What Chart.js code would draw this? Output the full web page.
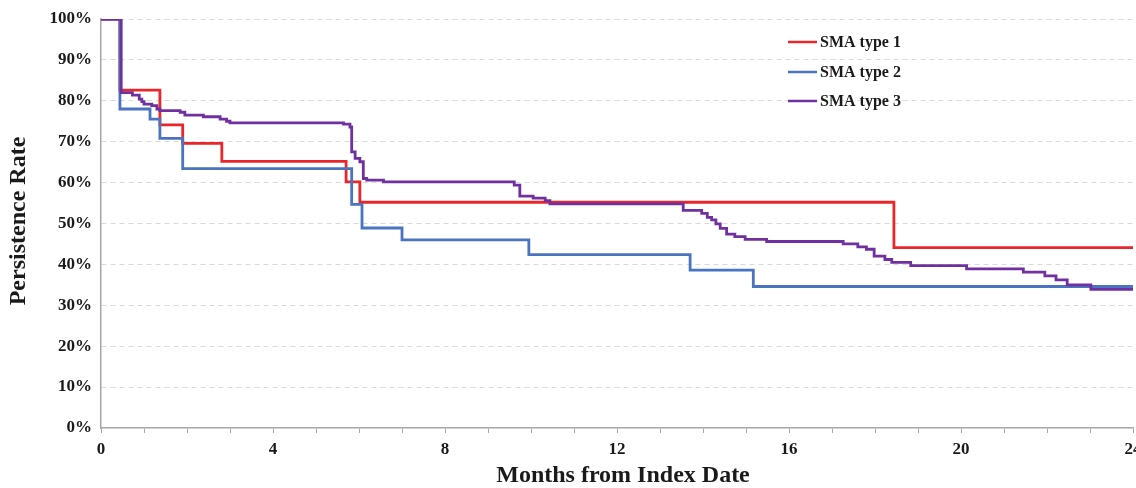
<!DOCTYPE html>
<html>
<head>
<meta charset="utf-8">
<script src="https://cdn.jsdelivr.net/npm/chart.js@4/dist/chart.umd.min.js"></script>
<style>
html,body{margin:0;padding:0;background:#fff;}
#wrap{width:1136px;height:488px;}
</style>
</head>
<body>
<div id="wrap"><canvas id="c" width="1136" height="488"></canvas></div>
<script>
// Month ticks and labels
const xTickLabels = [0, 4, 8, 12, 16, 20, 24];
const yTickLabels = [0, 10, 20, 30, 40, 50, 60, 70, 80, 90, 100];

// Series labels and axis titles
const seriesNames = ['SMA type 1', 'SMA type 2', 'SMA type 3'];
const xTitle = 'Months from Index Date';
const yTitle = 'Persistence Rate';

// SMA type 1 (times in months, persistence %)
const t1 = [0, 0.44, 1.37, 1.9, 2.81, 5.7, 6.02, 18.44, 24];
const v1 = [100, 82.6, 74.1, 69.6, 65.2, 60.2, 55.2, 44.1, 44.1];

// SMA type 2
const t2 = [0, 0.44, 1.14, 1.37, 1.9, 5.83, 6.07, 7.0, 9.95, 13.7, 15.17, 24];
const v2 = [100, 78.0, 75.5, 70.8, 63.4, 54.7, 48.9, 46.0, 42.4, 38.6, 34.6, 34.6];

// SMA type 3
const t3 = [0, 0.47, 0.73, 0.89, 0.95, 1.0, 1.18, 1.3, 1.37, 1.84, 1.95, 2.38, 2.77, 2.92, 3.0,
            5.64, 5.79, 5.83, 5.91, 6.02, 6.1, 6.18, 6.57, 9.61, 9.74, 10.05, 10.33, 10.44,
            13.54, 13.97, 14.1, 14.2, 14.3, 14.4, 14.55, 14.74, 14.98, 15.48, 17.26, 17.6, 17.8,
            17.98, 18.23, 18.39, 18.83, 20.13, 21.45, 21.95, 22.21, 22.47, 23.02, 24];
const v3 = [100, 82.0, 81.4, 80.4, 79.8, 79.2, 78.8, 78.0, 77.6, 77.2, 76.5, 76.1, 75.5, 75.0, 74.6,
            74.3, 73.6, 67.5, 65.9, 65.1, 61.0, 60.6, 60.2, 59.4, 56.7, 56.2, 55.6, 54.8,
            53.2, 52.5, 51.5, 50.9, 49.9, 48.8, 47.4, 46.8, 46.1, 45.6, 45.0, 44.3, 43.7,
            42.0, 41.2, 40.5, 39.7, 38.9, 38.1, 37.2, 36.2, 35.0, 33.9, 33.9];

const colors = ['#e8262b', '#4a73c0', '#7030a0'];

function pts(t, v) { return t.map((x, i) => ({x: x, y: v[i]})); }

const serif = "'Liberation Serif', 'DejaVu Serif', serif";

const annotPlugin = {
  id: 'customLegendTitles',
  afterDraw(chart) {
    const ctx = chart.ctx;
    ctx.save();
    // legend
    const x0 = 788, x1 = 817, xt = 820;
    const ys = [42, 72, 101];
    chart.data.datasets.forEach((ds, i) => {
      ctx.strokeStyle = ds.borderColor;
      ctx.lineWidth = 2.5;
      ctx.beginPath();
      ctx.moveTo(x0, ys[i]);
      ctx.lineTo(x1, ys[i]);
      ctx.stroke();
      ctx.fillStyle = '#1a1a1a';
      ctx.font = "bold 16px " + serif;
      ctx.textBaseline = 'middle';
      ctx.textAlign = 'left';
      ctx.fillText(ds.label, xt, ys[i] + 1);
    });
    // axis titles
    ctx.fillStyle = '#1a1a1a';
    ctx.font = "bold 24px " + serif;
    ctx.textAlign = 'center';
    ctx.textBaseline = 'middle';
    ctx.fillText(xTitle, 623, 476);
    ctx.translate(19, 221);
    ctx.rotate(-Math.PI / 2);
    ctx.fillText(yTitle, 0, 0);
    ctx.restore();
  }
};

new Chart(document.getElementById('c'), {
  type: 'line',
  data: {
    datasets: [
      {label: seriesNames[0], data: pts(t1, v1), borderColor: colors[0], order: 3},
      {label: seriesNames[1], data: pts(t2, v2), borderColor: colors[1], order: 2},
      {label: seriesNames[2], data: pts(t3, v3), borderColor: colors[2], order: 1}
    ].map(d => Object.assign(d, {stepped: true, borderWidth: 2.8, pointRadius: 0, fill: false, backgroundColor: d.borderColor}))
  },
  options: {
    responsive: false,
    animation: false,
    events: [],
    layout: {padding: {left: 0, top: 19, right: 3, bottom: 0}},
    plugins: {legend: {display: false}, tooltip: {enabled: false}},
    scales: {
      x: {
        type: 'linear',
        min: 0, max: 24,
        afterBuildTicks(scale) {
          const ticks = [];
          for (let m = 0; m <= 24; m++) ticks.push({value: m});
          scale.ticks = ticks;
        },
        afterFit(scale) {
          scale.height = 60;
          scale.paddingLeft = 0;
          scale.paddingRight = 0;
        },
        ticks: {
          autoSkip: false,
          maxRotation: 0,
          padding: 6,
          color: '#1a1a1a',
          font: {family: serif, size: 17, weight: 'bold'},
          callback: (v) => xTickLabels.includes(v) ? String(v) : ''
        },
        grid: {
          drawOnChartArea: false,
          drawTicks: true,
          tickLength: 5,
          color: '#a6a6a6',
          lineWidth: 1
        },
        border: {display: true, color: '#a6a6a6', width: 1.5},
        title: {display: false}
      },
      y: {
        min: 0, max: 100,
        afterBuildTicks(scale) {
          scale.ticks = yTickLabels.map(v => ({value: v}));
        },
        afterFit(scale) {
          scale.width = 101;
          scale.paddingTop = 0;
          scale.paddingBottom = 0;
        },
        ticks: {
          padding: 9,
          color: '#1a1a1a',
          font: {family: serif, size: 17, weight: 'bold'},
          callback: (v) => v + '%'
        },
        grid: {
          drawTicks: false,
          color: (c) => c.tick && c.tick.value === 0 ? 'rgba(0,0,0,0)' : '#d9d9d9',
          lineWidth: 1
        },
        border: {display: true, color: '#a6a6a6', width: 1.5, dash: [5, 4]},
        title: {display: false}
      }
    }
  },
  plugins: [annotPlugin]
});
</script>
</body>
</html>
